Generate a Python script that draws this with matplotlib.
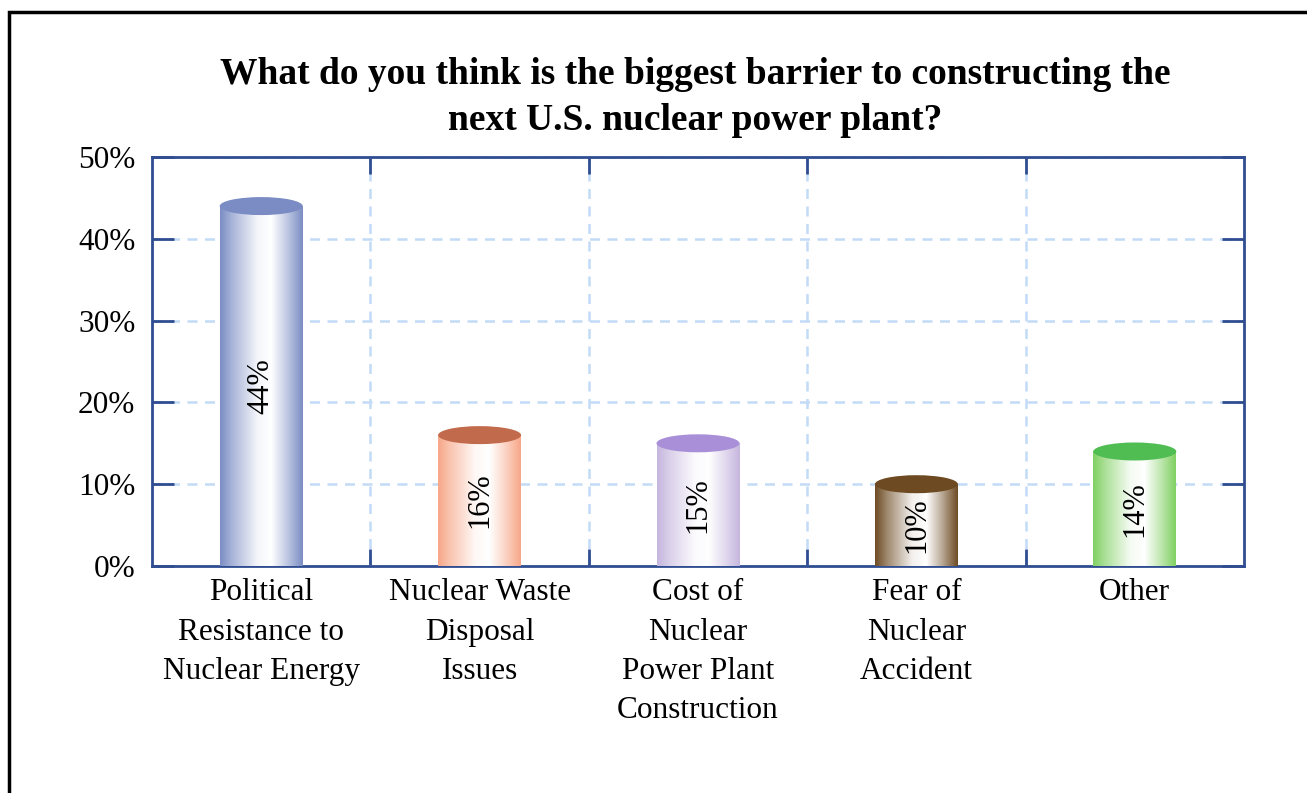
import numpy as np
import matplotlib
matplotlib.use("Agg")
import matplotlib.pyplot as plt
from matplotlib.patches import Ellipse, Rectangle
from matplotlib.colors import to_rgb

# data
categories = ["Political\nResistance to\nNuclear Energy",
              "Nuclear Waste\nDisposal\nIssues",
              "Cost of\nNuclear\nPower Plant\nConstruction",
              "Fear of\nNuclear\nAccident",
              "Other"]
values = [44, 16, 15, 10, 14]
labels = ["44%", "16%", "15%", "10%", "14%"]
side_colors = ["#7b8dc4", "#f7a788", "#c6b6de", "#6e4c24", "#80d062"]
top_colors = ["#7a8cc3", "#c26b4c", "#a98fd8", "#6d4a22", "#4fbd52"]

plt.rcParams['font.family'] = ['Liberation Serif', 'DejaVu Serif']

fig = plt.figure(figsize=(13.07, 7.93), dpi=100)
ax = fig.add_axes([152/1307, 1-566/793, 1092/1307, 409/793])

# outer black frame
fig.patches.append(Rectangle((9/1307, -0.1), 1.2, 1-12/793+0.1, transform=fig.transFigure,
                             fill=False, edgecolor='black', linewidth=2.5))

bar_w = 0.38
cap_h = 2.2
t = np.linspace(0, 1, 200)
shade = np.interp(t, [0, 0.15, 0.45, 0.62, 0.8, 1.0], [0.0, 0.35, 0.92, 1.0, 0.55, 0.0])

for i, (v, sc, tc, lab) in enumerate(zip(values, side_colors, top_colors, labels)):
    base = np.array(to_rgb(sc))
    grad = base[None, :] * (1 - shade[:, None]) + shade[:, None]
    img = grad[None, :, :]
    ax.imshow(img, extent=[i - bar_w/2, i + bar_w/2, 0, v], aspect='auto',
              interpolation='bilinear', zorder=3)
    ax.add_patch(Ellipse((i, v), bar_w, cap_h, facecolor=tc, edgecolor='none', zorder=4))
    ax.text(i, v/2, lab, rotation=90, ha='center', va='center', fontsize=22, zorder=5)

ax.set_xlim(-0.5, 4.5)
ax.set_ylim(0, 50)
ax.set_yticks([0, 10, 20, 30, 40, 50])
ax.set_yticklabels(["0%", "10%", "20%", "30%", "40%", "50%"], fontsize=22.5)
for lbl in ax.get_yticklabels():
    lbl.set_va('center_baseline')
ax.set_xticks([0.5, 1.5, 2.5, 3.5])
ax.set_xticklabels([])
for i, c in enumerate(categories):
    ax.text(i, -1.5, c, ha='center', va='top', fontsize=22.5, linespacing=1.47)

ax.grid(True, color='#c3dbf7', linestyle=(0, (4, 3)), linewidth=1.8, zorder=1)
ax.set_axisbelow(True)
for s in ax.spines.values():
    s.set_color('#2f4d90')
    s.set_linewidth(2)
ax.tick_params(axis='both', direction='in', length=12, width=2, color='#2f4d90',
               top=True, right=True, pad=12)
ax.tick_params(axis='y', length=16)

fig.suptitle("What do you think is the biggest barrier to constructing the\nnext U.S. nuclear power plant?",
             x=695/1307, y=1-57/793, va='top', fontsize=27, fontweight='bold', linespacing=1.42)

fig.savefig("out.png", dpi=100)
